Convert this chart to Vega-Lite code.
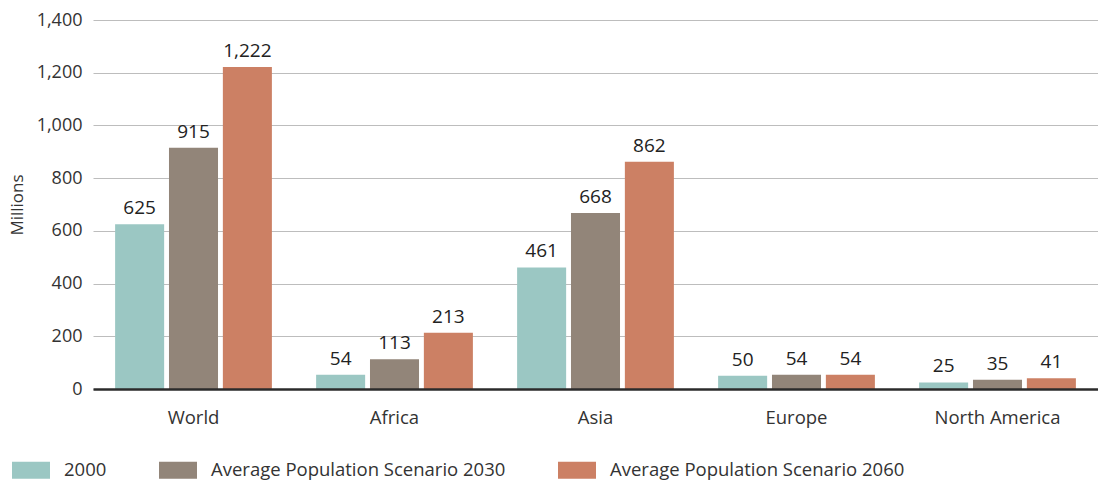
{
  "$schema": "https://vega.github.io/schema/vega-lite/v6.json",
  "width": 1005,
  "height": 369,
  "autosize": {"type": "none"},
  "padding": {"left": 93, "top": 20, "right": 0, "bottom": 91},
  "background": "white",
  "config": {
    "font": "Open Sans",
    "view": {"stroke": null},
    "axis": {"labelFont": "Open Sans", "titleFont": "Open Sans"},
    "legend": {"labelFont": "Open Sans"}
  },
  "data": {
    "values": [
      {"region": "World", "series": "2000", "value": 625},
      {"region": "World", "series": "Average Population Scenario 2030", "value": 915},
      {"region": "World", "series": "Average Population Scenario 2060", "value": 1222},
      {"region": "Africa", "series": "2000", "value": 54},
      {"region": "Africa", "series": "Average Population Scenario 2030", "value": 113},
      {"region": "Africa", "series": "Average Population Scenario 2060", "value": 213},
      {"region": "Asia", "series": "2000", "value": 461},
      {"region": "Asia", "series": "Average Population Scenario 2030", "value": 668},
      {"region": "Asia", "series": "Average Population Scenario 2060", "value": 862},
      {"region": "Europe", "series": "2000", "value": 50},
      {"region": "Europe", "series": "Average Population Scenario 2030", "value": 54},
      {"region": "Europe", "series": "Average Population Scenario 2060", "value": 54},
      {"region": "North America", "series": "2000", "value": 25},
      {"region": "North America", "series": "Average Population Scenario 2030", "value": 35},
      {"region": "North America", "series": "Average Population Scenario 2060", "value": 41}
    ]
  },
  "encoding": {
    "x": {
      "field": "region",
      "type": "nominal",
      "sort": ["World", "Africa", "Asia", "Europe", "North America"],
      "scale": {"paddingInner": 0.22, "paddingOuter": 0.11},
      "axis": {
        "title": null,
        "labelAngle": 0,
        "ticks": false,
        "labelPadding": 19,
        "labelFontSize": 18.5,
        "labelColor": "#333333",
        "domainColor": "#2b2b2b",
        "domainWidth": 2.5,
        "zindex": 1
      }
    },
    "xOffset": {
      "field": "series",
      "type": "nominal",
      "scale": {"paddingInner": 0.09, "paddingOuter": 0}
    },
    "y": {
      "field": "value",
      "type": "quantitative",
      "scale": {"domain": [0, 1400]},
      "axis": {
        "title": "Millions",
        "titleFontSize": 17,
        "titleFontWeight": "normal",
        "titleColor": "#333333",
        "titlePadding": 10,
        "values": [0, 200, 400, 600, 800, 1000, 1200, 1400],
        "format": ",d",
        "ticks": false,
        "domain": false,
        "labelPadding": 11,
        "labelFontSize": 18,
        "labelColor": "#333333",
        "gridColor": "#bdbdbd",
        "gridWidth": 1
      }
    }
  },
  "layer": [
    {
      "mark": {"type": "bar"},
      "encoding": {
        "color": {
          "field": "series",
          "type": "nominal",
          "scale": {
            "domain": ["2000", "Average Population Scenario 2030", "Average Population Scenario 2060"],
            "range": ["#9bc7c3", "#928579", "#cc8064"]
          },
          "legend": {
            "orient": "none",
            "legendX": -81,
            "legendY": 431,
            "direction": "horizontal",
            "title": null,
            "symbolType": "M-1,-0.45H1V0.45H-1Z",
            "symbolSize": 1444,
            "symbolStrokeWidth": 0,
            "labelFontSize": 18.5,
            "labelLimit": 500,
            "labelColor": "#333333",
            "labelOffset": 14,
            "columnPadding": 52
          }
        }
      }
    },
    {
      "mark": {"type": "text", "baseline": "bottom", "dy": -6, "fontSize": 19, "fontWeight": 500, "color": "#222222"},
      "encoding": {
        "text": {"field": "value", "type": "quantitative", "format": ",d"}
      }
    }
  ]
}
